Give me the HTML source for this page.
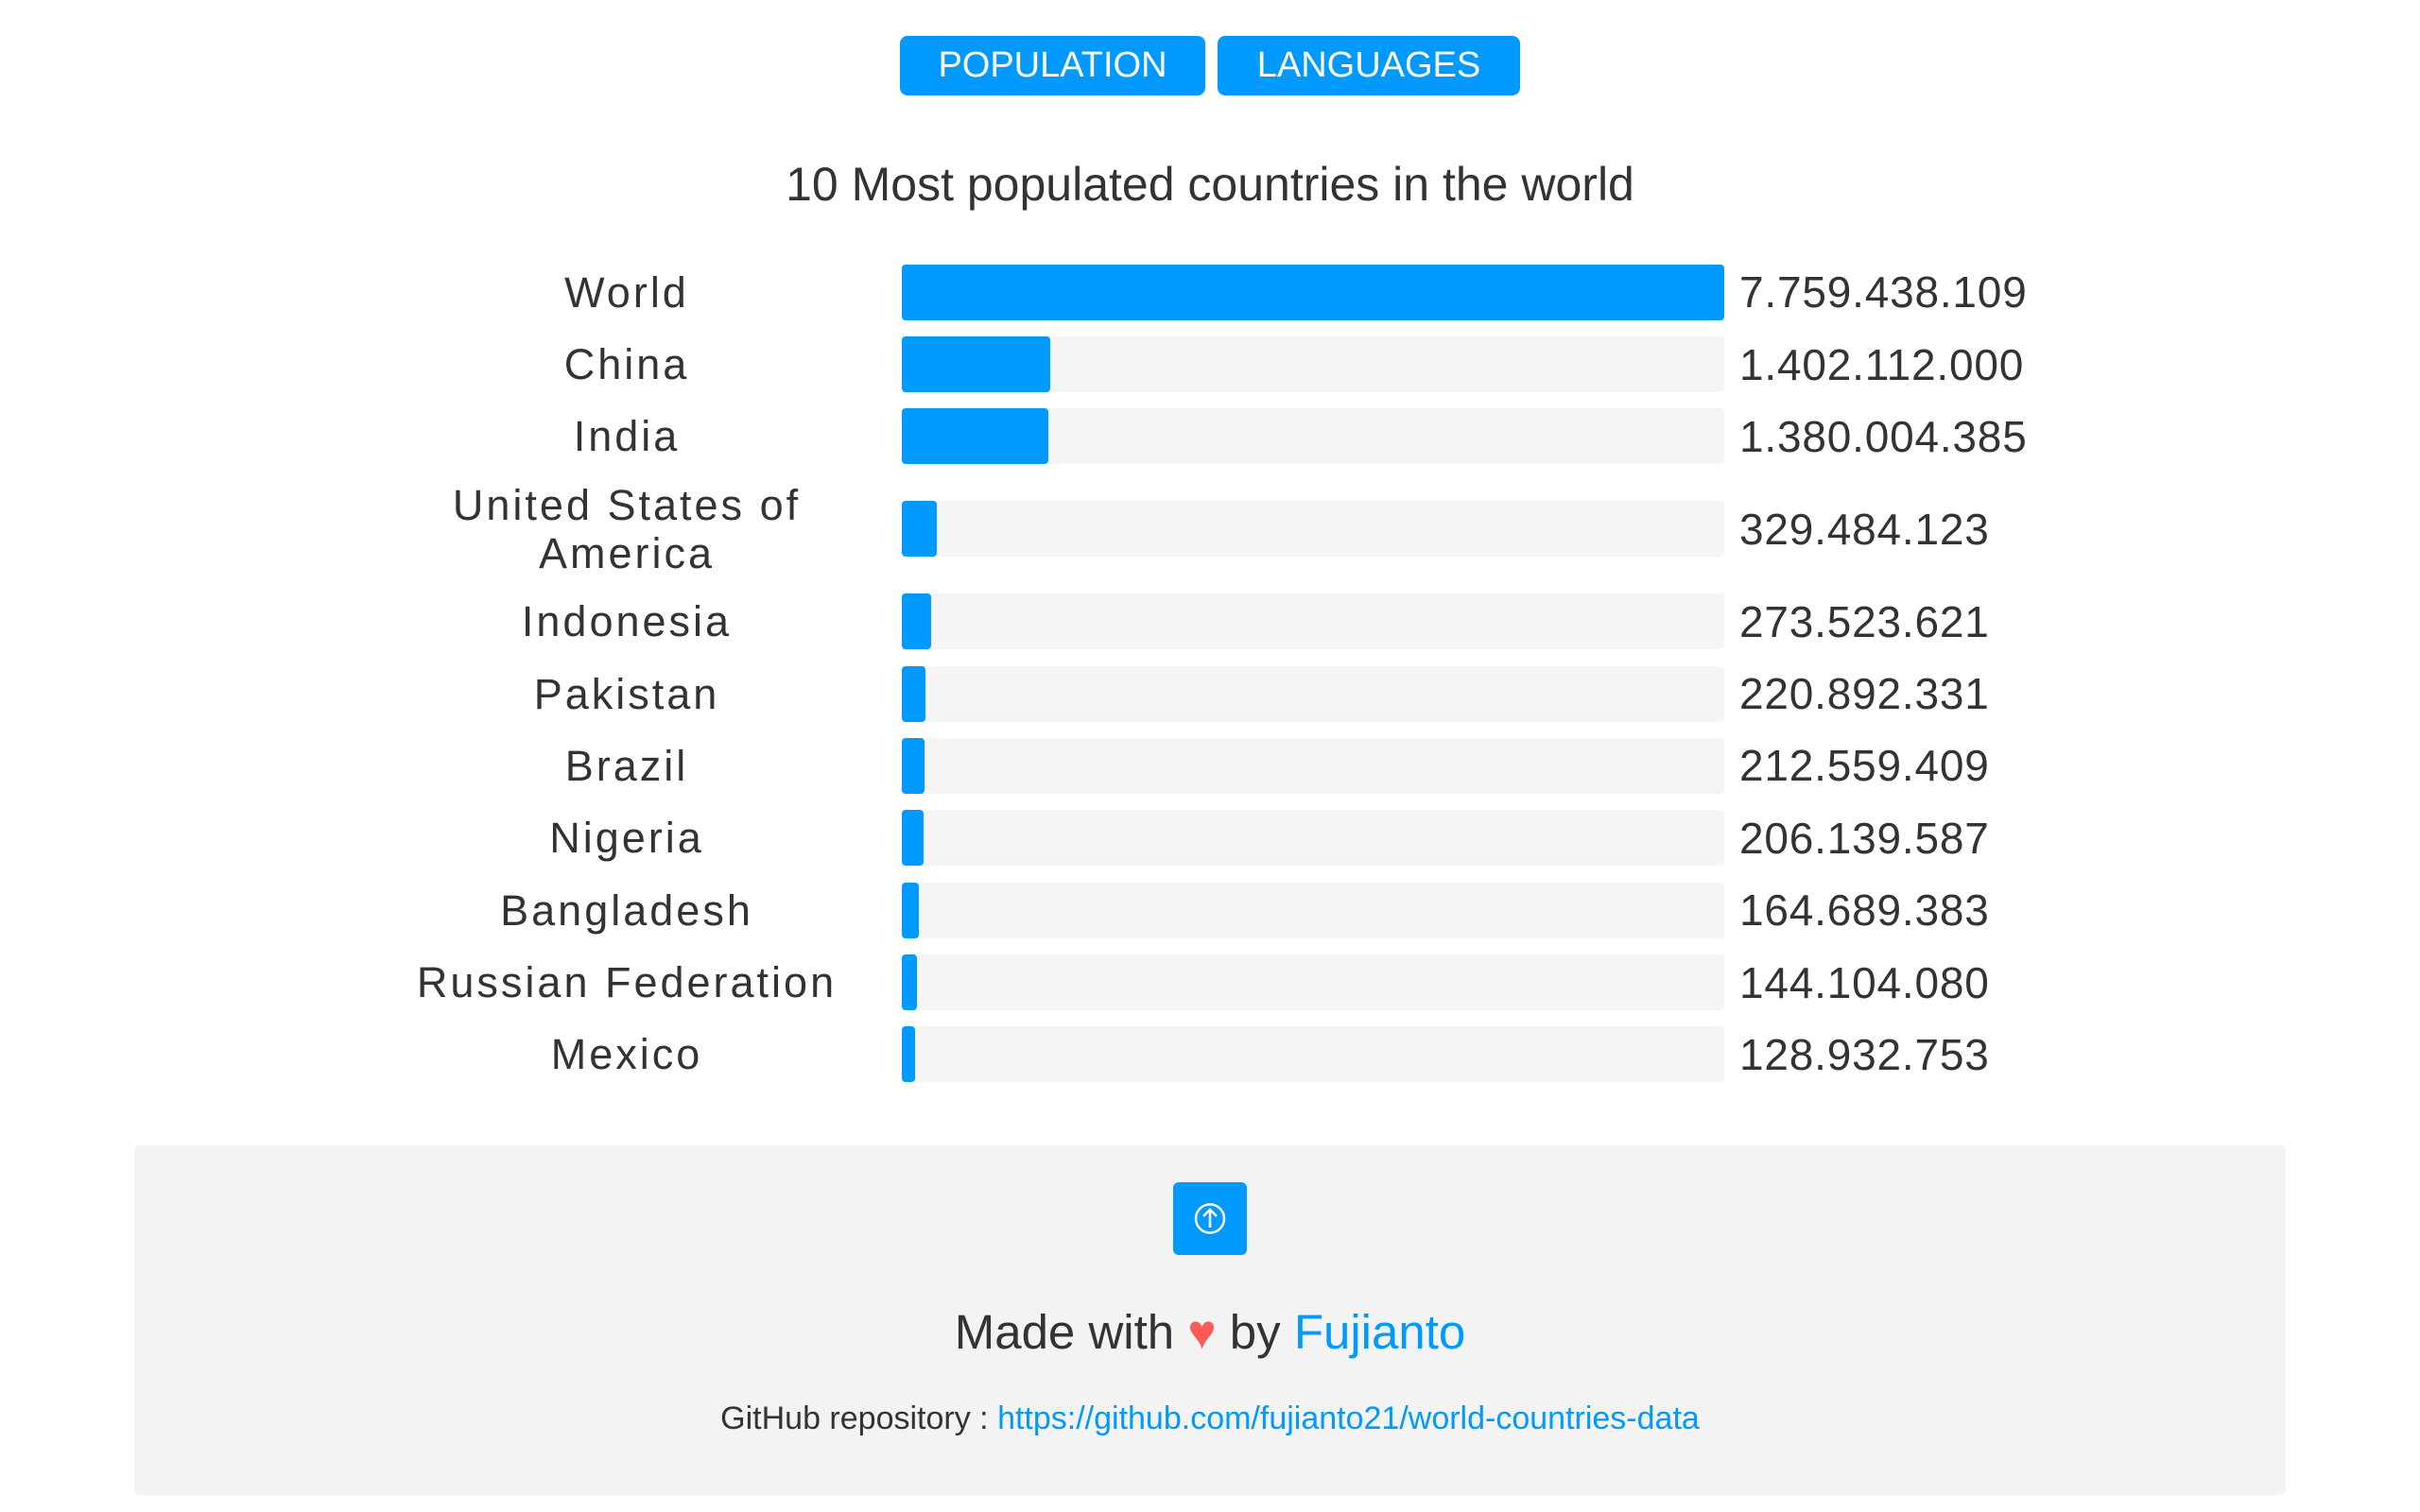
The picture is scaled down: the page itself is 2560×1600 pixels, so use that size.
<!DOCTYPE html>
<html><head><meta charset="utf-8"><style>
body{margin:0;width:2560px;height:1600px;background:#fff;font-family:"Liberation Sans",sans-serif;color:#333;position:relative;overflow:hidden}
.btn{position:absolute;top:38px;height:63px;background:#0099ff;color:#fff;border-radius:8px;font-size:38px;display:flex;align-items:center;justify-content:center}
#title{position:absolute;top:166px;left:0;width:2560px;text-align:center;font-size:50px;color:#333}
#chart{position:absolute;top:271px;left:0;width:2560px}
.row{display:flex;align-items:center;padding:8.7px 0}
.lab{width:566px;margin-left:380px;text-align:center;font-size:45px;letter-spacing:3px;line-height:51px;color:#333}
.track{margin-left:8px;width:870px;height:59px;background:#f5f5f5;border-radius:4px;position:relative}
.fill{position:absolute;left:0;top:0;height:59px;background:#0099ff;border-radius:4px}
.val{margin-left:16px;font-size:46px;color:#333;letter-spacing:.8px}
#footer{position:absolute;left:142px;top:1212px;width:2276px;height:370px;background:#f3f3f3;border-radius:6px}
</style></head><body>
<div class="btn" style="left:952px;width:323px">POPULATION</div>
<div class="btn" style="left:1288px;width:320px">LANGUAGES</div>
<div id="title">10 Most populated countries in the world</div>
<div id="chart"></div>
<div id="footer">
 <div style="position:absolute;left:1099px;top:39px;width:78px;height:77px;background:#0099ff;border-radius:6px">
  <svg width="78" height="77" viewBox="0 0 78 77"><circle cx="39" cy="38.5" r="15" fill="none" stroke="#fff" stroke-width="2.5"/><path d="M39 48 V30 M32 36 L39 29 L46 36" fill="none" stroke="#fff" stroke-width="2.5"/></svg>
 </div>
 <div style="position:absolute;top:168px;width:100%;text-align:center;font-size:51px;color:#333">Made with <span style="color:#ff5a5a">♥</span> by <span style="color:#0099ff">Fujianto</span></div>
 <div style="position:absolute;top:270px;width:100%;text-align:center;font-size:34px;color:#333">GitHub repository : <span style="color:#0099ff">https://github.com/fujianto21/world-countries-data</span></div>
</div>
<script>
const countries=["World","China","India","United States of<br>America","Indonesia","Pakistan","Brazil","Nigeria","Bangladesh","Russian Federation","Mexico"];
const populations=[7759438109,1402112000,1380004385,329484123,273523621,220892331,212559409,206139587,164689383,144104080,128932753];
const chart=document.getElementById('chart');
const maxV=Math.max(...populations);
const fmt=v=>String(v).replace(/\B(?=(\d{3})+(?!\d))/g,'.');
countries.forEach((c,i)=>{
 const row=document.createElement('div');row.className='row';
 
 
 const lab=document.createElement('div');lab.className='lab';lab.innerHTML=c;
 
 
 const tr=document.createElement('div');tr.className='track';
 
 
 const f=document.createElement('div');f.className='fill';f.style.width=(populations[i]/maxV*870)+'px';
 
 
 tr.appendChild(f);
 const v=document.createElement('div');v.className='val';v.textContent=fmt(populations[i]);
 
 
 row.append(lab,tr,v);chart.appendChild(row);
});
</script>
</body></html>
